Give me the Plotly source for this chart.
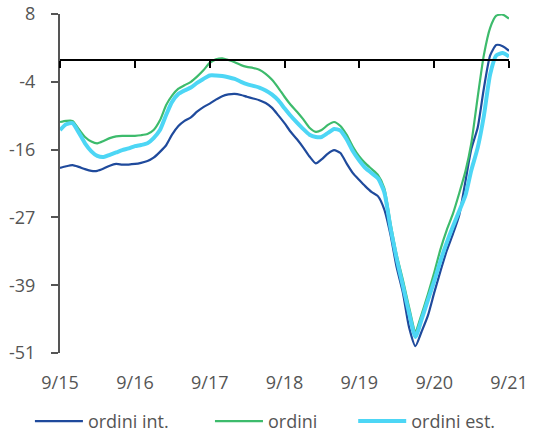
import pandas as pd
import plotly.graph_objects as go

# mesi da 9/2015 a 9/2021
mesi = pd.date_range("2015-09-01", periods=73, freq="MS")

ordini_int = [
    -18.8, -18.5, -18.3, -18.6, -19.0, -19.3, -19.3, -18.9, -18.4, -18.1,
    -18.2, -18.2, -18.1, -17.9, -17.6, -17.0, -16.0, -14.8, -13.0, -11.5,
    -10.6, -10.0, -9.0, -8.2, -7.6, -6.9, -6.3, -6.0, -5.9, -6.1,
    -6.4, -6.7, -7.0, -7.5, -8.3, -9.6, -11.0, -12.5, -13.8, -15.2,
    -16.8, -18.0, -17.3, -16.3, -15.7, -16.2, -18.0, -19.7, -20.9, -22.0,
    -23.0, -23.7, -26.0, -30.5, -36.0, -40.5, -46.5, -49.8, -47.3, -44.5,
    -40.5, -36.8, -33.2, -30.3, -27.0, -21.0, -15.5, -11.8, -5.0, 0.8,
    2.6, 2.4, 1.6,
]

ordini = [
    -10.8, -10.6, -10.6, -12.0, -13.4, -14.2, -14.5, -14.1, -13.6, -13.3,
    -13.2, -13.2, -13.2, -13.1, -12.9, -12.2, -10.5, -7.8, -6.2, -5.0,
    -4.4, -3.8, -2.9, -1.8, -0.5, 0.1, 0.3, 0.0, -0.4, -0.9,
    -1.2, -1.4, -1.7, -2.4, -3.4, -4.8, -6.4, -7.8, -9.0, -10.3,
    -11.8, -12.5, -12.2, -11.3, -10.8, -11.5, -13.0, -15.1, -16.8, -18.0,
    -19.0, -20.0, -22.3, -28.5, -33.8, -38.3, -43.0, -47.2, -44.3, -40.8,
    -37.0, -33.0, -29.6, -26.8, -23.2, -19.3, -14.5, -6.5, 0.8, 5.6,
    7.7, 7.9, 7.2,
]

ordini_est = [
    -12.2, -11.2, -11.0, -12.6, -14.5, -15.9, -16.7, -16.9, -16.5, -16.1,
    -15.7, -15.4, -15.0, -14.8, -14.5, -13.6, -12.2, -9.5, -7.3, -5.9,
    -5.3, -4.8, -4.0, -3.3, -2.7, -2.7, -2.8, -3.0, -3.3, -3.8,
    -4.2, -4.5, -4.8, -5.3, -6.0, -7.0, -8.4, -9.7, -10.9, -12.0,
    -13.0, -13.4, -13.4, -12.7, -12.0, -12.3, -13.8, -15.9, -17.5, -18.8,
    -19.7, -20.6, -23.0, -29.3, -34.5, -39.3, -44.0, -48.2, -45.2, -41.8,
    -38.5, -35.0, -31.8, -29.0, -26.3, -23.5, -19.2, -15.3, -9.8, -2.5,
    0.8, 1.2, 0.6,
]

x_ticks = ["2015-09-01", "2016-09-01", "2017-09-01", "2018-09-01",
           "2019-09-01", "2020-09-01", "2021-09-01"]
x_labels = ["9/15", "9/16", "9/17", "9/18", "9/19", "9/20", "9/21"]
y_ticks = [8, -3.8, -15.6, -27.4, -39.2, -51]
y_labels = ["8", "-4", "-16", "-27", "-39", "-51"]

font = dict(family="Open Sans", size=18, color="#555555")

fig = go.Figure()
fig.add_trace(go.Scatter(x=mesi, y=ordini_int, mode="lines", name="ordini int.", legend="legend",
                         line=dict(color="#1f4a9c", width=2.2, shape="spline", smoothing=0.6)))
fig.add_trace(go.Scatter(x=mesi, y=ordini, mode="lines", name="ordini", legend="legend2",
                         line=dict(color="#3dbb6c", width=2.2, shape="spline", smoothing=0.6)))
# la serie estera sta sull'asse sovrapposto (stessa scala) che disegna la linea dello zero
fig.add_trace(go.Scatter(x=mesi, y=ordini_est, mode="lines", name="ordini est.", legend="legend3",
                         xaxis="x2",
                         line=dict(color="#4dd6f5", width=4, shape="spline", smoothing=0.6)))

leg = dict(orientation="h", xanchor="left", y=-0.147, yanchor="top", font=font, itemwidth=48)

fig.update_layout(
    width=533, height=437,
    margin=dict(l=60, r=24, t=14, b=84, autoexpand=False),
    plot_bgcolor="white", paper_bgcolor="white",
    font=font,
    showlegend=True,
    legend=dict(leg, x=-0.067),
    legend2=dict(leg, x=0.334),
    legend3=dict(leg, x=0.653),
    xaxis=dict(range=[x_ticks[0], x_ticks[-1]], tickvals=x_ticks, ticktext=x_labels,
               showline=False, showgrid=False, zeroline=False, ticks="",
               ticklabelstandoff=17, automargin=False),
    xaxis2=dict(range=[x_ticks[0], x_ticks[-1]], type="date", overlaying="x",
                anchor="free", position=51 / 59, side="bottom",
                tickvals=x_ticks, showticklabels=False, showgrid=False,
                showline=True, linecolor="black", linewidth=1.5, zeroline=False,
                ticks="outside", ticklen=7, tickcolor="black", tickwidth=1.5),
    yaxis=dict(range=[-51, 8], tickvals=y_ticks, ticktext=y_labels,
               showgrid=False, zeroline=False, showline=True,
               linecolor="#555555", linewidth=2, ticks="outside", ticklen=7,
               tickcolor="#555555", tickwidth=1.5, ticklabelstandoff=12,
               ticklabeloverflow="allow", automargin=False),
)

# niente margine di 8px sul body, così la figura parte dall'angolo
fig.write_html("out.html", config={"displayModeBar": False},
               post_script="document.body.style.margin = '0';")
